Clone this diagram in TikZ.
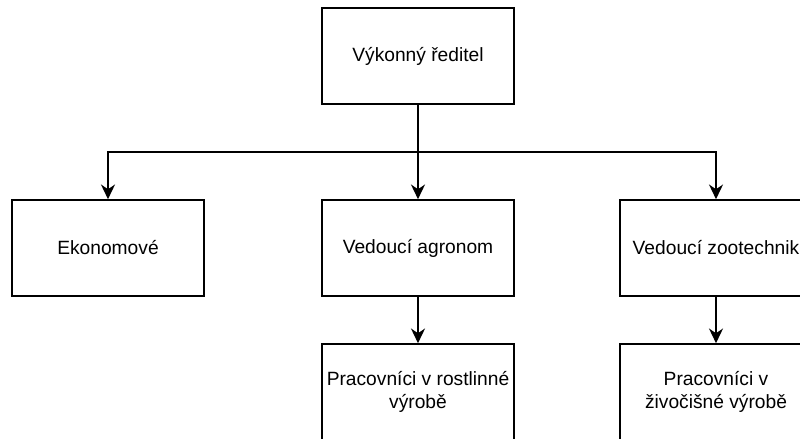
\documentclass[tikz,border=0pt]{standalone}
\usepackage{fontspec}
\setmainfont{Liberation Sans}
\usetikzlibrary{arrows.meta}
\tikzset{
  orgbox/.style={draw=black, line width=1.2pt, minimum width=144pt, minimum height=72pt,
    inner sep=0pt, align=center, font=\fontsize{14.4pt}{17.3pt}\selectfont, fill=white},
  conn/.style={line width=1.2pt, -{Stealth[length=11pt, width=10.5pt, inset=3.5pt]}},
  plain/.style={line width=1.2pt}
}
\begin{document}
\begin{tikzpicture}[x=0.75pt, y=-0.75pt]
\useasboundingbox (0,0) rectangle (800,439);
\fill[white] (0,0) rectangle (800,439);
\node[orgbox] (ceo) at (418,56) {Výkonný ředitel};
\node[orgbox] (ekon) at (108,248) {Ekonomové};
\node[orgbox] (agro) at (418,248) {Vedoucí agronom};
\node[orgbox] (zoo) at (716,248) {Vedoucí zootechnik};
\node[orgbox] (rost) at (418,392) {Pracovníci v rostlinné\\výrobě};
\node[orgbox] (ziv) at (716,392) {Pracovníci v\\živočišné výrobě};
\coordinate (j) at (418,152);
\draw[plain] (ceo.south) -- (j);
\draw[conn] (j) -| (ekon.north);
\draw[conn] (j) -| (zoo.north);
\draw[conn] (j) -- (agro.north);
\draw[conn] (agro.south) -- (rost.north);
\draw[conn] (zoo.south) -- (ziv.north);
\end{tikzpicture}
\end{document}
